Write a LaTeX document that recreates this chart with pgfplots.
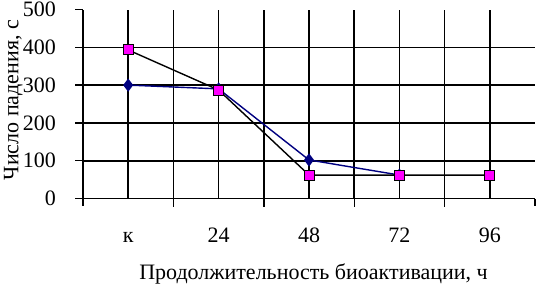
\documentclass[border=0pt]{standalone}
\usepackage{fontspec}
\setmainfont{Liberation Serif}
\usepackage{pgfplots}
\pgfplotsset{compat=1.18}
\definecolor{navyb}{RGB}{0,0,128}
\definecolor{magb}{RGB}{255,0,255}
\newcommand{\fs}{\fontsize{22bp}{26bp}\selectfont}
\begin{document}
\begin{tikzpicture}
\useasboundingbox (0,0) rectangle (536bp,284bp);
\begin{axis}[
  at={(83bp,85.5bp)}, anchor=south west,
  scale only axis, width=452bp, height=189bp,
  xmin=0.5, xmax=5.5, ymin=0, ymax=500,
  axis x line*=bottom, axis y line*=left,
  axis line style={-, line width=1.6bp, black},
  /pgf/number format/assume math mode=true,
  tick label style={font=\fs, inner sep=0pt},
  label style={font=\fs},
  tick align=outside, tick pos=left,
  major tick length=8bp, minor tick length=7bp,
  tick style={line width=1.4bp, black},
  grid=major,
  major grid style={line width=1.6bp, black},
  xtick={1.5,2.5,3.5,4.5}, xticklabels={},
  minor xtick={0.5,5.5},
  extra x ticks={1,2,3,4,5},
  extra x tick labels={к,24,48,72,96},
  extra x tick style={major tick length=0pt, grid=major},
  xticklabel style={anchor=base, yshift=-44bp},
  ytick={0,100,200,300,400},
  extra y ticks={500},
  extra y tick style={grid=none},
  yticklabel style={anchor=east, xshift=-19bp},
  xlabel={Продолжительность биоактивации, ч},
  xlabel style={at={(axis description cs:0.51,-0.43)}, anchor=base},
  ylabel={Число падения, с},
  ylabel style={at={(axis description cs:-0.133,0.521)}, anchor=south, inner sep=0pt},
]
\addplot[navyb, line width=1.4bp, mark=diamond*, mark size=5.5bp,
  mark options={fill=navyb, draw=navyb}]
  coordinates {(1,300) (2,290) (3,102) (4,62)};
\addplot[black, line width=1.4bp, mark=square*, mark size=5bp,
  mark options={fill=magb, draw=black, line width=1bp}]
  coordinates {(1,393) (2,287) (3,62) (4,62) (5,62)};
\end{axis}
\end{tikzpicture}
\end{document}
